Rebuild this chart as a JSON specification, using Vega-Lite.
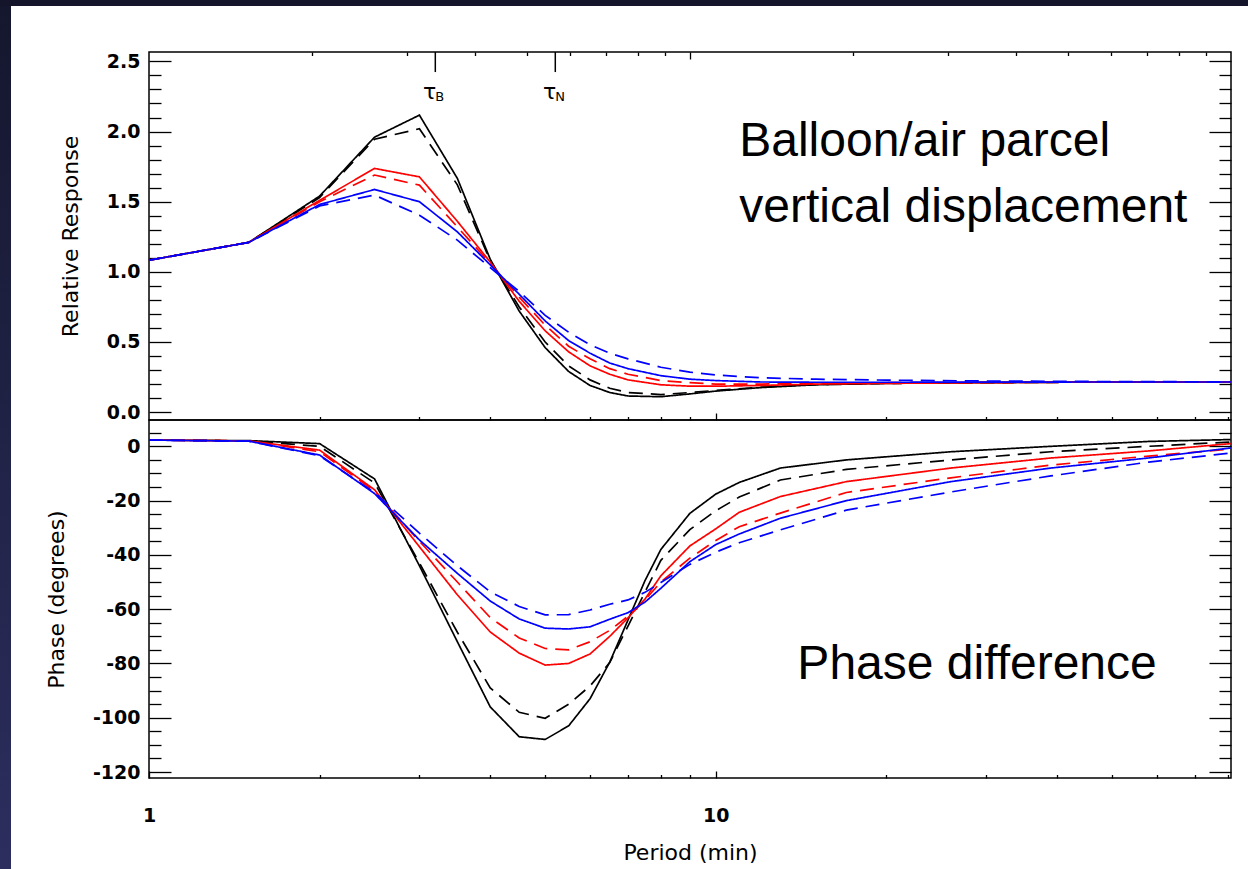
{
  "$schema": "https://vega.github.io/schema/vega-lite/v6.json",
  "background": "#ffffff",
  "padding": 0,
  "spacing": 0,
  "config": {
    "font": "DejaVu Sans",
    "view": {"stroke": "#000000", "strokeWidth": 1.5},
    "axis": {"domain": false, "grid": false, "tickColor": "#000000", "tickWidth": 1.3, "labelColor": "#000000", "titleColor": "#000000", "labelFont": "DejaVu Sans", "labelFontWeight": "bold", "labelFontSize": 19, "titleFont": "DejaVu Sans", "titleFontWeight": "normal", "titleFontSize": 22, "labelOverlap": false, "labelFlush": false, "labelBound": false}
  },
  "datasets": {
    "resp": [
      {"x":1,"y":1.083,"color":"black","dash":"solid"},{"x":1.5,"y":1.21,"color":"black","dash":"solid"},{"x":2,"y":1.54,"color":"black","dash":"solid"},{"x":2.5,"y":1.96,"color":"black","dash":"solid"},{"x":3,"y":2.117,"color":"black","dash":"solid"},{"x":3.5,"y":1.666,"color":"black","dash":"solid"},{"x":4,"y":1.09,"color":"black","dash":"solid"},{"x":4.5,"y":0.72,"color":"black","dash":"solid"},{"x":5,"y":0.46,"color":"black","dash":"solid"},{"x":5.5,"y":0.29,"color":"black","dash":"solid"},{"x":6,"y":0.19,"color":"black","dash":"solid"},{"x":6.5,"y":0.14,"color":"black","dash":"solid"},{"x":7,"y":0.115,"color":"black","dash":"solid"},{"x":8,"y":0.11,"color":"black","dash":"solid"},{"x":9,"y":0.13,"color":"black","dash":"solid"},{"x":10,"y":0.15,"color":"black","dash":"solid"},{"x":12,"y":0.175,"color":"black","dash":"solid"},{"x":15,"y":0.195,"color":"black","dash":"solid"},{"x":20,"y":0.205,"color":"black","dash":"solid"},{"x":30,"y":0.21,"color":"black","dash":"solid"},{"x":50,"y":0.215,"color":"black","dash":"solid"},{"x":81,"y":0.215,"color":"black","dash":"solid"},
      {"x":1,"y":1.083,"color":"black","dash":"dashed"},{"x":1.5,"y":1.21,"color":"black","dash":"dashed"},{"x":2,"y":1.53,"color":"black","dash":"dashed"},{"x":2.5,"y":1.945,"color":"black","dash":"dashed"},{"x":3,"y":2.02,"color":"black","dash":"dashed"},{"x":3.5,"y":1.62,"color":"black","dash":"dashed"},{"x":4,"y":1.08,"color":"black","dash":"dashed"},{"x":4.5,"y":0.75,"color":"black","dash":"dashed"},{"x":5,"y":0.5,"color":"black","dash":"dashed"},{"x":5.5,"y":0.33,"color":"black","dash":"dashed"},{"x":6,"y":0.23,"color":"black","dash":"dashed"},{"x":6.5,"y":0.17,"color":"black","dash":"dashed"},{"x":7,"y":0.14,"color":"black","dash":"dashed"},{"x":8,"y":0.125,"color":"black","dash":"dashed"},{"x":9,"y":0.14,"color":"black","dash":"dashed"},{"x":10,"y":0.155,"color":"black","dash":"dashed"},{"x":12,"y":0.178,"color":"black","dash":"dashed"},{"x":15,"y":0.196,"color":"black","dash":"dashed"},{"x":20,"y":0.205,"color":"black","dash":"dashed"},{"x":30,"y":0.21,"color":"black","dash":"dashed"},{"x":50,"y":0.215,"color":"black","dash":"dashed"},{"x":81,"y":0.215,"color":"black","dash":"dashed"},
      {"x":1,"y":1.083,"color":"red","dash":"solid"},{"x":1.5,"y":1.21,"color":"red","dash":"solid"},{"x":2,"y":1.51,"color":"red","dash":"solid"},{"x":2.5,"y":1.737,"color":"red","dash":"solid"},{"x":3,"y":1.677,"color":"red","dash":"solid"},{"x":3.5,"y":1.36,"color":"red","dash":"solid"},{"x":4,"y":1.07,"color":"red","dash":"solid"},{"x":4.5,"y":0.79,"color":"red","dash":"solid"},{"x":5,"y":0.58,"color":"red","dash":"solid"},{"x":5.5,"y":0.43,"color":"red","dash":"solid"},{"x":6,"y":0.33,"color":"red","dash":"solid"},{"x":6.5,"y":0.27,"color":"red","dash":"solid"},{"x":7,"y":0.23,"color":"red","dash":"solid"},{"x":8,"y":0.195,"color":"red","dash":"solid"},{"x":9,"y":0.185,"color":"red","dash":"solid"},{"x":10,"y":0.185,"color":"red","dash":"solid"},{"x":12,"y":0.19,"color":"red","dash":"solid"},{"x":15,"y":0.2,"color":"red","dash":"solid"},{"x":20,"y":0.205,"color":"red","dash":"solid"},{"x":30,"y":0.21,"color":"red","dash":"solid"},{"x":50,"y":0.215,"color":"red","dash":"solid"},{"x":81,"y":0.215,"color":"red","dash":"solid"},
      {"x":1,"y":1.083,"color":"red","dash":"dashed"},{"x":1.5,"y":1.21,"color":"red","dash":"dashed"},{"x":2,"y":1.5,"color":"red","dash":"dashed"},{"x":2.5,"y":1.69,"color":"red","dash":"dashed"},{"x":3,"y":1.618,"color":"red","dash":"dashed"},{"x":3.5,"y":1.32,"color":"red","dash":"dashed"},{"x":4,"y":1.06,"color":"red","dash":"dashed"},{"x":4.5,"y":0.82,"color":"red","dash":"dashed"},{"x":5,"y":0.62,"color":"red","dash":"dashed"},{"x":5.5,"y":0.47,"color":"red","dash":"dashed"},{"x":6,"y":0.38,"color":"red","dash":"dashed"},{"x":6.5,"y":0.31,"color":"red","dash":"dashed"},{"x":7,"y":0.27,"color":"red","dash":"dashed"},{"x":8,"y":0.225,"color":"red","dash":"dashed"},{"x":9,"y":0.21,"color":"red","dash":"dashed"},{"x":10,"y":0.2,"color":"red","dash":"dashed"},{"x":12,"y":0.2,"color":"red","dash":"dashed"},{"x":15,"y":0.205,"color":"red","dash":"dashed"},{"x":20,"y":0.21,"color":"red","dash":"dashed"},{"x":30,"y":0.212,"color":"red","dash":"dashed"},{"x":50,"y":0.215,"color":"red","dash":"dashed"},{"x":81,"y":0.215,"color":"red","dash":"dashed"},
      {"x":1,"y":1.083,"color":"blue","dash":"solid"},{"x":1.5,"y":1.21,"color":"blue","dash":"solid"},{"x":2,"y":1.48,"color":"blue","dash":"solid"},{"x":2.5,"y":1.587,"color":"blue","dash":"solid"},{"x":3,"y":1.5,"color":"blue","dash":"solid"},{"x":3.5,"y":1.285,"color":"blue","dash":"solid"},{"x":4,"y":1.05,"color":"blue","dash":"solid"},{"x":4.5,"y":0.84,"color":"blue","dash":"solid"},{"x":5,"y":0.65,"color":"blue","dash":"solid"},{"x":5.5,"y":0.51,"color":"blue","dash":"solid"},{"x":6,"y":0.42,"color":"blue","dash":"solid"},{"x":6.5,"y":0.35,"color":"blue","dash":"solid"},{"x":7,"y":0.31,"color":"blue","dash":"solid"},{"x":8,"y":0.26,"color":"blue","dash":"solid"},{"x":9,"y":0.235,"color":"blue","dash":"solid"},{"x":10,"y":0.225,"color":"blue","dash":"solid"},{"x":12,"y":0.215,"color":"blue","dash":"solid"},{"x":15,"y":0.213,"color":"blue","dash":"solid"},{"x":20,"y":0.213,"color":"blue","dash":"solid"},{"x":30,"y":0.214,"color":"blue","dash":"solid"},{"x":50,"y":0.215,"color":"blue","dash":"solid"},{"x":81,"y":0.215,"color":"blue","dash":"solid"},
      {"x":1,"y":1.083,"color":"blue","dash":"dashed"},{"x":1.5,"y":1.21,"color":"blue","dash":"dashed"},{"x":2,"y":1.47,"color":"blue","dash":"dashed"},{"x":2.5,"y":1.547,"color":"blue","dash":"dashed"},{"x":3,"y":1.404,"color":"blue","dash":"dashed"},{"x":3.5,"y":1.226,"color":"blue","dash":"dashed"},{"x":4,"y":1.03,"color":"blue","dash":"dashed"},{"x":4.5,"y":0.86,"color":"blue","dash":"dashed"},{"x":5,"y":0.69,"color":"blue","dash":"dashed"},{"x":5.5,"y":0.57,"color":"blue","dash":"dashed"},{"x":6,"y":0.48,"color":"blue","dash":"dashed"},{"x":6.5,"y":0.42,"color":"blue","dash":"dashed"},{"x":7,"y":0.38,"color":"blue","dash":"dashed"},{"x":8,"y":0.32,"color":"blue","dash":"dashed"},{"x":9,"y":0.285,"color":"blue","dash":"dashed"},{"x":10,"y":0.265,"color":"blue","dash":"dashed"},{"x":12,"y":0.245,"color":"blue","dash":"dashed"},{"x":15,"y":0.235,"color":"blue","dash":"dashed"},{"x":20,"y":0.228,"color":"blue","dash":"dashed"},{"x":30,"y":0.222,"color":"blue","dash":"dashed"},{"x":50,"y":0.218,"color":"blue","dash":"dashed"},{"x":81,"y":0.216,"color":"blue","dash":"dashed"}
    ],
    "phase": [
      {"x":1,"y":2.3,"color":"black","dash":"solid"},{"x":1.5,"y":2.1,"color":"black","dash":"solid"},{"x":2,"y":1.0,"color":"black","dash":"solid"},{"x":2.5,"y":-12,"color":"black","dash":"solid"},{"x":3,"y":-44,"color":"black","dash":"solid"},{"x":3.5,"y":-72,"color":"black","dash":"solid"},{"x":4,"y":-96,"color":"black","dash":"solid"},{"x":4.5,"y":-107,"color":"black","dash":"solid"},{"x":5,"y":-108,"color":"black","dash":"solid"},{"x":5.5,"y":-103,"color":"black","dash":"solid"},{"x":6,"y":-93,"color":"black","dash":"solid"},{"x":6.5,"y":-79.5,"color":"black","dash":"solid"},{"x":7,"y":-64,"color":"black","dash":"solid"},{"x":7.5,"y":-49.5,"color":"black","dash":"solid"},{"x":8,"y":-38,"color":"black","dash":"solid"},{"x":9,"y":-24.7,"color":"black","dash":"solid"},{"x":10,"y":-17.6,"color":"black","dash":"solid"},{"x":11,"y":-13.3,"color":"black","dash":"solid"},{"x":13,"y":-8,"color":"black","dash":"solid"},{"x":17,"y":-5,"color":"black","dash":"solid"},{"x":26,"y":-2,"color":"black","dash":"solid"},{"x":39,"y":0,"color":"black","dash":"solid"},{"x":58,"y":1.8,"color":"black","dash":"solid"},{"x":81,"y":2.5,"color":"black","dash":"solid"},
      {"x":1,"y":2.3,"color":"black","dash":"dashed"},{"x":1.5,"y":2.0,"color":"black","dash":"dashed"},{"x":2,"y":0,"color":"black","dash":"dashed"},{"x":2.5,"y":-13.5,"color":"black","dash":"dashed"},{"x":3,"y":-43,"color":"black","dash":"dashed"},{"x":3.5,"y":-68.5,"color":"black","dash":"dashed"},{"x":4,"y":-89,"color":"black","dash":"dashed"},{"x":4.5,"y":-98,"color":"black","dash":"dashed"},{"x":5,"y":-100.2,"color":"black","dash":"dashed"},{"x":5.5,"y":-95,"color":"black","dash":"dashed"},{"x":6,"y":-88.3,"color":"black","dash":"dashed"},{"x":6.5,"y":-79.7,"color":"black","dash":"dashed"},{"x":7,"y":-66.2,"color":"black","dash":"dashed"},{"x":7.5,"y":-53.7,"color":"black","dash":"dashed"},{"x":8,"y":-42,"color":"black","dash":"dashed"},{"x":9,"y":-30.7,"color":"black","dash":"dashed"},{"x":10,"y":-23.7,"color":"black","dash":"dashed"},{"x":11,"y":-18.7,"color":"black","dash":"dashed"},{"x":13,"y":-12.4,"color":"black","dash":"dashed"},{"x":17,"y":-8.5,"color":"black","dash":"dashed"},{"x":26,"y":-5,"color":"black","dash":"dashed"},{"x":39,"y":-2,"color":"black","dash":"dashed"},{"x":58,"y":0,"color":"black","dash":"dashed"},{"x":81,"y":1.6,"color":"black","dash":"dashed"},
      {"x":1,"y":2.3,"color":"red","dash":"solid"},{"x":1.5,"y":2.0,"color":"red","dash":"solid"},{"x":2,"y":-1.4,"color":"red","dash":"solid"},{"x":2.5,"y":-16,"color":"red","dash":"solid"},{"x":3,"y":-37,"color":"red","dash":"solid"},{"x":3.5,"y":-54.7,"color":"red","dash":"solid"},{"x":4,"y":-68.4,"color":"red","dash":"solid"},{"x":4.5,"y":-76.2,"color":"red","dash":"solid"},{"x":5,"y":-80.6,"color":"red","dash":"solid"},{"x":5.5,"y":-80,"color":"red","dash":"solid"},{"x":6,"y":-76.5,"color":"red","dash":"solid"},{"x":6.5,"y":-70,"color":"red","dash":"solid"},{"x":7,"y":-63.2,"color":"red","dash":"solid"},{"x":7.5,"y":-56.3,"color":"red","dash":"solid"},{"x":8,"y":-47.7,"color":"red","dash":"solid"},{"x":9,"y":-36.7,"color":"red","dash":"solid"},{"x":10,"y":-30.4,"color":"red","dash":"solid"},{"x":11,"y":-24.3,"color":"red","dash":"solid"},{"x":13,"y":-18.5,"color":"red","dash":"solid"},{"x":17,"y":-13,"color":"red","dash":"solid"},{"x":26,"y":-8,"color":"red","dash":"solid"},{"x":39,"y":-4.3,"color":"red","dash":"solid"},{"x":58,"y":-1.7,"color":"red","dash":"solid"},{"x":81,"y":1.0,"color":"red","dash":"solid"},
      {"x":1,"y":2.3,"color":"red","dash":"dashed"},{"x":1.5,"y":2.0,"color":"red","dash":"dashed"},{"x":2,"y":-2,"color":"red","dash":"dashed"},{"x":2.5,"y":-16.5,"color":"red","dash":"dashed"},{"x":3,"y":-35,"color":"red","dash":"dashed"},{"x":3.5,"y":-50,"color":"red","dash":"dashed"},{"x":4,"y":-63.1,"color":"red","dash":"dashed"},{"x":4.5,"y":-70.6,"color":"red","dash":"dashed"},{"x":5,"y":-74.5,"color":"red","dash":"dashed"},{"x":5.5,"y":-75,"color":"red","dash":"dashed"},{"x":6,"y":-72,"color":"red","dash":"dashed"},{"x":6.5,"y":-67.8,"color":"red","dash":"dashed"},{"x":7,"y":-62.6,"color":"red","dash":"dashed"},{"x":7.5,"y":-56.6,"color":"red","dash":"dashed"},{"x":8,"y":-50,"color":"red","dash":"dashed"},{"x":9,"y":-41.2,"color":"red","dash":"dashed"},{"x":10,"y":-34.7,"color":"red","dash":"dashed"},{"x":11,"y":-29.6,"color":"red","dash":"dashed"},{"x":13,"y":-24.6,"color":"red","dash":"dashed"},{"x":17,"y":-17,"color":"red","dash":"dashed"},{"x":26,"y":-11.6,"color":"red","dash":"dashed"},{"x":39,"y":-6.9,"color":"red","dash":"dashed"},{"x":58,"y":-3.6,"color":"red","dash":"dashed"},{"x":81,"y":-1,"color":"red","dash":"dashed"},
      {"x":1,"y":2.3,"color":"blue","dash":"solid"},{"x":1.5,"y":1.9,"color":"blue","dash":"solid"},{"x":2,"y":-3.2,"color":"blue","dash":"solid"},{"x":2.5,"y":-17.4,"color":"blue","dash":"solid"},{"x":3,"y":-34.5,"color":"blue","dash":"solid"},{"x":3.5,"y":-46.8,"color":"blue","dash":"solid"},{"x":4,"y":-57,"color":"blue","dash":"solid"},{"x":4.5,"y":-63.6,"color":"blue","dash":"solid"},{"x":5,"y":-67,"color":"blue","dash":"solid"},{"x":5.5,"y":-67.3,"color":"blue","dash":"solid"},{"x":6,"y":-66.5,"color":"blue","dash":"solid"},{"x":6.5,"y":-63.7,"color":"blue","dash":"solid"},{"x":7,"y":-61.3,"color":"blue","dash":"solid"},{"x":7.5,"y":-57.4,"color":"blue","dash":"solid"},{"x":8,"y":-52.3,"color":"blue","dash":"solid"},{"x":9,"y":-42.5,"color":"blue","dash":"solid"},{"x":10,"y":-36.2,"color":"blue","dash":"solid"},{"x":11,"y":-32.3,"color":"blue","dash":"solid"},{"x":13,"y":-26.5,"color":"blue","dash":"solid"},{"x":17,"y":-20,"color":"blue","dash":"solid"},{"x":26,"y":-13,"color":"blue","dash":"solid"},{"x":39,"y":-8,"color":"blue","dash":"solid"},{"x":58,"y":-4.3,"color":"blue","dash":"solid"},{"x":81,"y":-0.6,"color":"blue","dash":"solid"},
      {"x":1,"y":2.3,"color":"blue","dash":"dashed"},{"x":1.5,"y":1.9,"color":"blue","dash":"dashed"},{"x":2,"y":-3.5,"color":"blue","dash":"dashed"},{"x":2.5,"y":-17,"color":"blue","dash":"dashed"},{"x":3,"y":-32,"color":"blue","dash":"dashed"},{"x":3.5,"y":-44,"color":"blue","dash":"dashed"},{"x":4,"y":-53.6,"color":"blue","dash":"dashed"},{"x":4.5,"y":-59,"color":"blue","dash":"dashed"},{"x":5,"y":-62.1,"color":"blue","dash":"dashed"},{"x":5.5,"y":-62,"color":"blue","dash":"dashed"},{"x":6,"y":-60.3,"color":"blue","dash":"dashed"},{"x":6.5,"y":-58.2,"color":"blue","dash":"dashed"},{"x":7,"y":-56.6,"color":"blue","dash":"dashed"},{"x":7.5,"y":-53.8,"color":"blue","dash":"dashed"},{"x":8,"y":-50.2,"color":"blue","dash":"dashed"},{"x":9,"y":-43.5,"color":"blue","dash":"dashed"},{"x":10,"y":-39,"color":"blue","dash":"dashed"},{"x":11,"y":-35.5,"color":"blue","dash":"dashed"},{"x":13,"y":-30.8,"color":"blue","dash":"dashed"},{"x":17,"y":-23.5,"color":"blue","dash":"dashed"},{"x":26,"y":-16.8,"color":"blue","dash":"dashed"},{"x":39,"y":-10.9,"color":"blue","dash":"dashed"},{"x":58,"y":-5.8,"color":"blue","dash":"dashed"},{"x":81,"y":-2.5,"color":"blue","dash":"dashed"}
    ]
  },
  "vconcat": [
    {
      "width": 1248, "height": 6,
      "view": {"stroke": null},
      "data": {"values": [{"part": "top band"}]},
      "mark": {"type": "rect", "fill": "#14152b"}
    },
    {
      "spacing": 33,
      "hconcat": [
        {
          "width": 11, "height": 863,
          "view": {"stroke": null},
          "data": {"values": [{"part": "left band"}]},
          "mark": {"type": "rect", "fill": {"gradient": "linear", "x1": 0, "y1": 0, "x2": 0, "y2": 1, "stops": [{"offset": 0, "color": "#15172e"}, {"offset": 1, "color": "#2c2e5e"}]}}
        },
        {
          "spacing": 0,
          "bounds": "flush",
          "vconcat": [
            {
              "width": 1082, "height": 46,
              "view": {"stroke": null},
              "data": {"values": [{"part": "space above plots"}]},
              "mark": {"type": "rect", "fill": "#ffffff"}
            },
            {
              "width": 1082, "height": 368,
              "resolve": {"axis": {"x": "independent", "y": "independent"}},
              "layer": [
                {
                  "data": {"name": "resp"},
                  "mark": {"type": "line", "strokeWidth": 1.7},
                  "encoding": {
                    "x": {"field": "x", "type": "quantitative", "scale": {"type": "log", "domain": [1, 81.1], "nice": false},
                      "axis": {"orient": "bottom", "title": null, "labels": false, "values": [2,3,4,5,6,7,8,9,10,20,30,40,50,60,70,80], "tickSize": -7, "tickDash": {"condition": {"test": "datum.value == 10", "value": [7, 0]}, "value": [3.5, 50]}, "minExtent": 0, "maxExtent": 0}},
                    "y": {"field": "y", "type": "quantitative", "scale": {"domain": [-0.056, 2.567], "nice": false, "zero": false},
                      "axis": {"orient": "left", "title": "Relative Response", "titlePadding": 24, "values": [0,0.1,0.2,0.3,0.4,0.5,0.6,0.7,0.8,0.9,1,1.1,1.2,1.3,1.4,1.5,1.6,1.7,1.8,1.9,2,2.1,2.2,2.3,2.4,2.5], "tickSize": -22, "labelPadding": 31, "tickDash": {"condition": {"test": "abs(datum.value*2 - round(datum.value*2)) < 0.001", "value": [22, 0]}, "value": [12, 100]}, "labelExpr": "abs(datum.value*2 - round(datum.value*2)) < 0.001 ? format(datum.value, '.1f') : ''"}},
                    "color": {"field": "color", "type": "nominal", "scale": {"domain": ["black", "red", "blue"], "range": ["#000000", "#ff0000", "#0000ff"]}, "legend": null},
                    "strokeDash": {"field": "dash", "type": "nominal", "scale": {"domain": ["solid", "dashed"], "range": [[1, 0], [14, 8]]}, "legend": null}
                  }
                },
                {
                  "data": {"values": [{"x": 11.0, "y": 1.825, "label": "Balloon/air parcel"}, {"x": 11.0, "y": 1.354, "label": "vertical displacement"}]},
                  "mark": {"type": "text", "font": "Liberation Sans", "fontSize": 48, "align": "left", "baseline": "alphabetic", "color": "#000000"},
                  "encoding": {
                    "x": {"field": "x", "type": "quantitative", "scale": {"type": "log", "domain": [1, 81.1], "nice": false},
                      "axis": {"orient": "top", "title": null, "labels": false, "values": [1.938,2.854,3.756,4.648,5.531,6.408,7.279,8.146,9.007,17.457,25.71,33.83,41.86,49.81,57.72,65.57,73.37], "tickSize": -7, "tickDash": {"condition": {"test": "abs(datum.value - 9.007) < 0.01", "value": [7, 0]}, "value": [3.5, 50]}, "minExtent": 0, "maxExtent": 0}},
                    "y": {"field": "y", "type": "quantitative", "scale": {"domain": [-0.056, 2.567], "nice": false, "zero": false},
                      "axis": {"orient": "right", "title": null, "labels": false, "values": [0,0.1,0.2,0.3,0.4,0.5,0.6,0.7,0.8,0.9,1,1.1,1.2,1.3,1.4,1.5,1.6,1.7,1.8,1.9,2,2.1,2.2,2.3,2.4,2.5], "tickSize": -22, "tickDash": {"condition": {"test": "abs(datum.value*2 - round(datum.value*2)) < 0.001", "value": [22, 0]}, "value": [12, 100]}, "minExtent": 0, "maxExtent": 0}},
                    "text": {"field": "label", "type": "nominal"}
                  }
                },
                {
                  "data": {"values": [{"x": 3.2, "sub": "B"}, {"x": 5.21, "sub": "N"}]},
                  "mark": {"type": "rule", "color": "#000000", "strokeWidth": 1.5},
                  "encoding": {
                    "x": {"field": "x", "type": "quantitative", "scale": {"type": "log", "domain": [1, 81.1], "nice": false}, "axis": null},
                    "y": {"datum": 2.567, "type": "quantitative", "scale": {"domain": [-0.056, 2.567], "nice": false, "zero": false}, "axis": null},
                    "y2": {"datum": 2.424}
                  }
                },
                {
                  "data": {"values": [{"x": 3.2, "sub": "B"}, {"x": 5.21, "sub": "N"}]},
                  "mark": {"type": "text", "text": "τ", "fontSize": 22, "align": "right", "baseline": "middle", "dx": 1, "color": "#000000"},
                  "encoding": {
                    "x": {"field": "x", "type": "quantitative", "scale": {"type": "log", "domain": [1, 81.1], "nice": false}, "axis": null},
                    "y": {"datum": 2.285, "type": "quantitative", "scale": {"domain": [-0.056, 2.567], "nice": false, "zero": false}, "axis": null}
                  }
                },
                {
                  "data": {"values": [{"x": 3.2, "sub": "B"}, {"x": 5.21, "sub": "N"}]},
                  "mark": {"type": "text", "fontSize": 13, "align": "left", "baseline": "middle", "dx": 0, "color": "#000000"},
                  "encoding": {
                    "x": {"field": "x", "type": "quantitative", "scale": {"type": "log", "domain": [1, 81.1], "nice": false}, "axis": null},
                    "y": {"datum": 2.245, "type": "quantitative", "scale": {"domain": [-0.056, 2.567], "nice": false, "zero": false}, "axis": null},
                    "text": {"field": "sub", "type": "nominal"}
                  }
                }
              ]
            },
            {
              "width": 1082, "height": 358,
              "resolve": {"axis": {"x": "independent", "y": "independent"}},
              "layer": [
                {
                  "data": {"name": "phase"},
                  "mark": {"type": "line", "strokeWidth": 1.7},
                  "encoding": {
                    "x": {"field": "x", "type": "quantitative", "scale": {"type": "log", "domain": [1, 81.1], "nice": false},
                      "axis": {"orient": "bottom", "title": "Period (min)", "titlePadding": 17, "values": [1,2,3,4,5,6,7,8,9,10,20,30,40,50,60,70,80], "tickSize": -7, "labelPadding": 35, "tickDash": {"condition": {"test": "datum.value == 1 || datum.value == 10", "value": [7, 0]}, "value": [3.5, 50]}, "labelExpr": "datum.value == 1 || datum.value == 10 ? '' + datum.value : ''"}},
                    "y": {"field": "y", "type": "quantitative", "scale": {"domain": [-122.2, 9.7], "nice": false, "zero": false},
                      "axis": {"orient": "left", "title": "Phase (degrees)", "titlePadding": 24, "values": [-120,-115,-110,-105,-100,-95,-90,-85,-80,-75,-70,-65,-60,-55,-50,-45,-40,-35,-30,-25,-20,-15,-10,-5,0,5], "tickSize": -22, "labelPadding": 31, "tickDash": {"condition": {"test": "datum.value % 20 == 0", "value": [22, 0]}, "value": [12, 100]}, "labelExpr": "datum.value % 20 == 0 ? '' + datum.value : ''"}},
                    "color": {"field": "color", "type": "nominal", "scale": {"domain": ["black", "red", "blue"], "range": ["#000000", "#ff0000", "#0000ff"]}, "legend": null},
                    "strokeDash": {"field": "dash", "type": "nominal", "scale": {"domain": ["solid", "dashed"], "range": [[1, 0], [14, 8]]}, "legend": null}
                  }
                },
                {
                  "data": {"values": [{"x": 13.93, "y": -85.7, "label": "Phase difference"}]},
                  "mark": {"type": "text", "font": "Liberation Sans", "fontSize": 48, "align": "left", "baseline": "alphabetic", "color": "#000000"},
                  "encoding": {
                    "x": {"field": "x", "type": "quantitative", "scale": {"type": "log", "domain": [1, 81.1], "nice": false}, "axis": null},
                    "y": {"field": "y", "type": "quantitative", "scale": {"domain": [-122.2, 9.7], "nice": false, "zero": false},
                      "axis": {"orient": "right", "title": null, "labels": false, "values": [-120,-115,-110,-105,-100,-95,-90,-85,-80,-75,-70,-65,-60,-55,-50,-45,-40,-35,-30,-25,-20,-15,-10,-5,0,5], "tickSize": -22, "tickDash": {"condition": {"test": "datum.value % 20 == 0", "value": [22, 0]}, "value": [12, 100]}, "minExtent": 0, "maxExtent": 0}},
                    "text": {"field": "label", "type": "nominal"}
                  }
                }
              ]
            }
          ]
        }
      ]
    }
  ]
}
